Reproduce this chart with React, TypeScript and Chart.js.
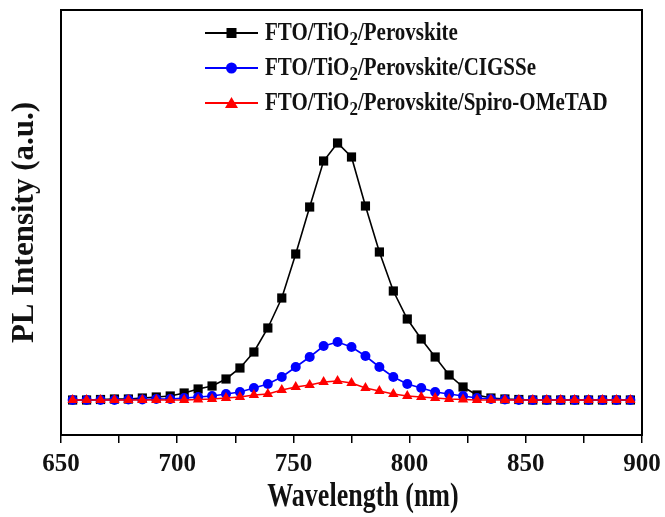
import React, { useEffect, useRef } from "react";
import { Chart, registerables } from "chart.js";

Chart.register(...registerables);

const wavelengths = [
  655, 661, 667, 673, 679, 685, 691, 697, 703, 709, 715, 721, 727, 733, 739, 745, 751, 757, 763, 769,
  775, 781, 787, 793, 799, 805, 811, 817, 823, 829, 835, 841, 847, 853, 859, 865, 871, 877, 883, 889, 895,
];

const perovskite = [
  0, 0, 0.5, 1, 1, 2, 3, 4, 7, 11, 14, 21, 32, 48, 72, 102, 146, 193, 239, 257,
  243, 194, 148, 109, 81, 61, 43, 25, 13, 5, 2, 1, 0.5, 0, 0, 0, 0, 0, 0, 0, 0,
];

const cigsse = [
  0, 0, 0, 0, 0.5, 0.5, 1, 1, 2, 3, 4, 6, 8, 12, 16, 23, 33, 43, 54, 58,
  53, 44, 33, 23, 16, 12, 8, 6, 4, 2, 1, 0.5, 0, 0, 0, 0, 0, 0, 0, 0, 0,
];

const spiro = [
  0, 0, 0, 0, 0, 0, 0, 0, 0, 0.5, 1, 2, 3, 5, 6, 10, 13, 15, 18, 19,
  17, 12, 9, 6, 4, 3, 2, 1, 0.5, 0, 0, 0, 0, 0, 0, 0, 0, 0, 0, 0, 0,
];

const xTickValues = [650, 700, 750, 800, 850, 900];

const xTitle = "Wavelength (nm)";
const yTitle = "PL Intensity (a.u.)";

const seriesNames = [
  ["FTO/TiO", "2", "/Perovskite"],
  ["FTO/TiO", "2", "/Perovskite/CIGSSe"],
  ["FTO/TiO", "2", "/Perovskite/Spiro-OMeTAD"],
];
const seriesColors = ["#000000", "#0000ff", "#ff0000"];
const seriesMarkers = ["rect", "circle", "triangle"];

const FONT = "'Liberation Serif', 'Times New Roman', serif";

const toPoints = (vals: number[]) => vals.map((v, i) => ({ x: wavelengths[i], y: v }));

const framePlugin = {
  id: "frame",
  afterDraw(chart: any) {
    const { ctx, chartArea } = chart;
    ctx.save();
    ctx.strokeStyle = "#000";
    ctx.lineWidth = 2;
    ctx.strokeRect(chartArea.left, chartArea.top, chartArea.right - chartArea.left, chartArea.bottom - chartArea.top);
    ctx.restore();
  },
};

const xTitlePlugin = {
  id: "xTitle",
  afterDraw(chart: any) {
    const { ctx } = chart;
    ctx.save();
    ctx.fillStyle = "#111";
    ctx.textAlign = "center";
    ctx.textBaseline = "alphabetic";
    ctx.font = `bold 26px ${FONT}`;
    ctx.translate(363, 506);
    ctx.scale(1, 1.3);
    ctx.fillText(xTitle, 0, 0);
    ctx.restore();
  },
};

const legendPlugin = {
  id: "customLegend",
  afterDraw(chart: any) {
    const { ctx, chartArea } = chart;
    const lineX0 = 205;
    const lineX1 = 258;
    const textX = 265;
    for (let i = 0; i < 3; i++) {
      ctx.save();
      const y = chartArea.top + 23 + 35 * i;
      const color = seriesColors[i];
      ctx.strokeStyle = color;
      ctx.lineWidth = 2;
      ctx.beginPath();
      ctx.moveTo(lineX0, y);
      ctx.lineTo(lineX1, y);
      ctx.stroke();
      ctx.fillStyle = color;
      const cx = (lineX0 + lineX1) / 2;
      ctx.beginPath();
      if (seriesMarkers[i] === "rect") {
        ctx.rect(cx - 5, y - 5, 10, 10);
      } else if (seriesMarkers[i] === "circle") {
        ctx.arc(cx, y, 5.5, 0, Math.PI * 2);
      } else {
        ctx.moveTo(cx, y - 6);
        ctx.lineTo(cx + 6.5, y + 5);
        ctx.lineTo(cx - 6.5, y + 5);
        ctx.closePath();
      }
      ctx.fill();
      ctx.fillStyle = "#111";
      ctx.textBaseline = "alphabetic";
      ctx.textAlign = "left";
      const [a, sub, b] = seriesNames[i];
      ctx.translate(textX, y + 7);
      ctx.scale(1, 1.15);
      ctx.font = `bold 21px ${FONT}`;
      ctx.fillText(a, 0, 0);
      let x = ctx.measureText(a).width;
      ctx.font = `bold 17px ${FONT}`;
      ctx.fillText(sub, x, 4);
      x += ctx.measureText(sub).width;
      ctx.font = `bold 21px ${FONT}`;
      ctx.fillText(b, x, 0);
      ctx.restore();
    }
  },
};

export default function App() {
  const canvasRef = useRef<HTMLCanvasElement | null>(null);

  useEffect(() => {
    document.body.style.margin = "0";
    const canvas = canvasRef.current;
    if (!canvas) return;
    const datasets = [perovskite, cigsse, spiro].map((vals, i) => ({
      label: seriesNames[i].join(""),
      data: toPoints(vals),
      borderColor: seriesColors[i],
      backgroundColor: seriesColors[i],
      borderWidth: 1.6,
      pointStyle: seriesMarkers[i] as any,
      pointRadius: i === 0 ? 6.5 : i === 1 ? 5 : 6,
      pointBorderWidth: 0,
      tension: 0,
      order: 2 - i,
    }));
    const chart = new Chart(canvas, {
      type: "line",
      data: { datasets },
      plugins: [framePlugin, legendPlugin, xTitlePlugin],
      options: {
        animation: false,
        responsive: false,
        maintainAspectRatio: false,
        layout: { padding: { top: 10, right: 23, left: 0, bottom: 0 } },
        plugins: { legend: { display: false }, tooltip: { enabled: false } },
        scales: {
          x: {
            type: "linear",
            min: 650,
            max: 900,
            afterBuildTicks: (scale: any) => {
              const t: any[] = [];
              xTickValues.forEach((v, i) => {
                t.push({ value: v });
                if (i < xTickValues.length - 1) t.push({ value: v + 25 });
              });
              scale.ticks = t;
            },
            ticks: {
              autoSkip: false,
              maxRotation: 0,
              padding: 7,
              color: "#111",
              font: { family: FONT, size: 25, weight: "bold" },
              callback: (v: any) => (xTickValues.includes(Number(v)) ? String(v) : ""),
            },
            grid: {
              drawOnChartArea: false,
              drawTicks: true,
              tickLength: 8,
              color: "#000",
              lineWidth: 1.5,
            },
            border: { display: false },
            title: { display: false, text: xTitle },
            afterFit: (scale: any) => {
              scale.height = 82;
              scale.paddingLeft = 0;
              scale.paddingRight = 0;
            },
          },
          y: {
            min: -35,
            max: 390,
            ticks: { display: false },
            grid: { display: false },
            border: { display: false },
            title: {
              display: true,
              text: yTitle,
              color: "#111",
              font: { family: FONT, size: 31, weight: "bold" },
              padding: { top: 6, bottom: 0 },
            },
            afterFit: (scale: any) => {
              scale.width = 61;
            },
          },
        },
      },
    });
    return () => chart.destroy();
  }, []);

  return (
    <div style={{ width: 665, height: 517 }}>
      <canvas ref={canvasRef} width={665} height={517} />
    </div>
  );
}
